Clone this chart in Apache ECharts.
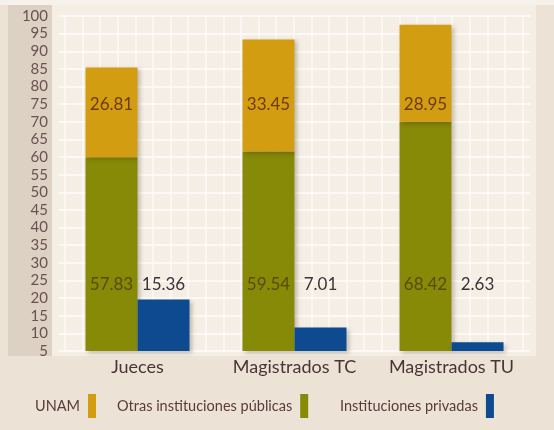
<!DOCTYPE html>
<html>
<head>
<meta charset="utf-8">
<script src="https://cdn.jsdelivr.net/npm/echarts@6/dist/echarts.min.js"></script>
<style>
  html, body { margin: 0; padding: 0; background: #ece3d6; }
  #chart { width: 554px; height: 430px; }
</style>
</head>
<body>
<div id="chart"></div>
<script>
// Formación de jueces y magistrados por tipo de institución (%)
const categories = ['Jueces', 'Magistrados TC', 'Magistrados TU'];
const otrasPublicas = [57.83, 59.54, 68.42];
const unam = [26.81, 33.45, 28.95];
const privadas = [15.36, 7.01, 2.63];
const seriesNames = ['UNAM', 'Otras instituciones públicas', 'Instituciones privadas'];

// tick range shown on the left scale
const tickMin = 5, tickMax = 100, tickStep = 5;
// level of the left scale where the UNAM values are written
const unamLabelLevel = 75;

const FONT = 'Lato, "Open Sans", sans-serif';
const chart = echarts.init(document.getElementById('chart'), null, { renderer: 'canvas' });

const barShadow = {
  shadowBlur: 4,
  shadowColor: 'rgba(60,40,20,0.28)',
  shadowOffsetX: 2,
  shadowOffsetY: 2
};

// one legend entry per series, text on the left of its colour swatch
const legendLefts = [30, 112, 335];
const legends = seriesNames.map((name, i) => ({
  data: [name],
  left: legendLefts[i],
  top: 389,
  align: 'right',
  icon: 'rect',
  itemWidth: 8,
  itemHeight: 24,
  textStyle: { fontFamily: FONT, fontSize: 14.5, color: '#5a3a3a', padding: [8, 3, 0, 0] }
}));

chart.setOption({
  backgroundColor: '#ece3d6',
  animation: false,
  graphic: [
    { type: 'rect', z: -10, shape: { x: 0, y: 0, width: 554, height: 5 }, style: { fill: '#f6f1ea' } },
    { type: 'rect', z: -10, shape: { x: 52, y: 5, width: 484, height: 351 }, style: { fill: '#f4eee5' } },
    { type: 'rect', z: -10, shape: { x: 8, y: 5, width: 44, height: 351 }, style: { fill: '#ddd1c3' } }
  ],
  legend: legends,
  grid: [
    { left: 59, width: 471, top: 16, height: 335 },
    { left: 64.9, width: 457.6, top: 16, height: 335 }
  ],
  xAxis: [
    {
      type: 'category',
      gridIndex: 0,
      data: categories,
      axisLine: { show: false },
      axisTick: { show: false },
      axisLabel: { interval: 0, fontFamily: FONT, fontSize: 18, color: '#4a3535', margin: 7 }
    },
    {
      // vertical guide lines of the background grid
      type: 'value',
      gridIndex: 1,
      min: 0, max: 26, interval: 1,
      axisLine: { show: false },
      axisTick: { show: false },
      axisLabel: { show: false },
      splitLine: { show: true, lineStyle: { color: 'rgba(255,255,255,0.7)', width: 1.5 } }
    }
  ],
  yAxis: [
    {
      type: 'value',
      gridIndex: 0,
      min: tickMin, max: tickMax, interval: tickStep,
      axisLine: { show: false },
      axisTick: { show: false },
      axisLabel: { fontFamily: FONT, fontSize: 15, color: '#6a5252', margin: 11 },
      splitLine: { show: true, lineStyle: { color: 'rgba(255,255,255,0.8)', width: 1.5 } }
    },
    {
      // percentage scale used by the bars
      type: 'value',
      gridIndex: 0,
      min: 0, max: 100,
      show: false,
      splitLine: { show: false }
    },
    {
      type: 'value',
      gridIndex: 1,
      min: 0, max: 1,
      show: false,
      splitLine: { show: false }
    }
  ],
  series: [
    {
      name: 'Otras instituciones públicas',
      type: 'bar',
      stack: 'publicas',
      xAxisIndex: 0, yAxisIndex: 1,
      barWidth: 52,
      barGap: '0%',
      data: otrasPublicas,
      itemStyle: Object.assign({ color: '#868a06' }, barShadow),
      label: {
        show: true, position: 'insideBottom', distance: 58,
        fontFamily: FONT, fontSize: 17, color: '#5a4a12',
        formatter: p => p.value.toFixed(2)
      }
    },
    {
      name: 'UNAM',
      type: 'bar',
      stack: 'publicas',
      xAxisIndex: 0, yAxisIndex: 1,
      barWidth: 52,
      data: unam,
      itemStyle: Object.assign({ color: '#d39d12' }, barShadow),
      label: {
        show: true, position: 'inside',
        fontFamily: FONT, fontSize: 17, color: '#6e3a1c',
        formatter: p => p.value.toFixed(2)
      }
    },
    {
      name: 'Instituciones privadas',
      type: 'bar',
      xAxisIndex: 0, yAxisIndex: 1,
      barWidth: 52,
      barGap: '0%',
      data: privadas,
      itemStyle: Object.assign({ color: '#0d4a90' }, barShadow),
      label: {
        show: true, position: 'insideBottom', distance: 58,
        fontFamily: FONT, fontSize: 17, color: '#3a3434',
        formatter: p => p.value.toFixed(2)
      }
    }
  ]
});

// write every UNAM value on one common level of the left scale
const levelY = chart.convertToPixel({ yAxisIndex: 0 }, unamLabelLevel);
const unamItems = unam.map((v, i) => {
  const mid = chart.convertToPixel({ yAxisIndex: 1 }, otrasPublicas[i] + v / 2);
  return { value: v, label: { offset: [0, levelY - mid] } };
});
chart.setOption({ series: [{}, { data: unamItems }, {}] });
</script>
</body>
</html>
